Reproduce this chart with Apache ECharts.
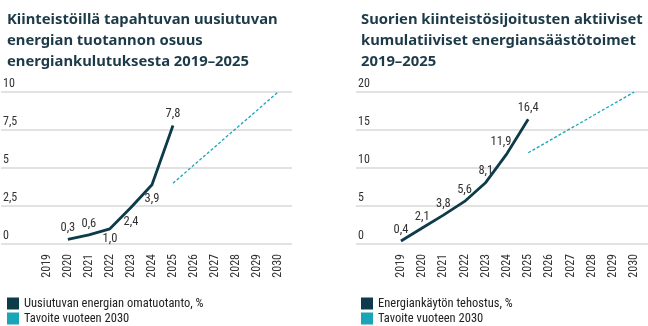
<!DOCTYPE html>
<html><head><meta charset="utf-8">
<script src="https://cdn.jsdelivr.net/npm/echarts@6/dist/echarts.min.js"></script>
<style>html,body{margin:0;padding:0;background:#fff}#c{width:648px;height:326px}</style>
</head><body><div id="c"></div>
<script>
const years = [2019,2020,2021,2022,2023,2024,2025,2026,2027,2028,2029,2030];
const leftYears = [2020,2021,2022,2023,2024,2025];
const leftValues = [0.3,0.6,1.0,2.4,3.9,7.8];
const leftLabelPos = ['top','top','bottom','bottom','bottom','top'];
const leftTargetYears = [2025,2030];
const leftTargetValues = [4,10];
const rightYears = [2019,2020,2021,2022,2023,2024,2025];
const rightValues = [0.4,2.1,3.8,5.6,8.1,11.9,16.4];
const rightTargetYears = [2025,2030];
const rightTargetValues = [12,20];
const leftTitle = 'Kiinteistöillä tapahtuvan uusiutuvan\nenergian tuotannon osuus\nenergiankulutuksesta 2019–2025';
const rightTitle = 'Suorien kiinteistösijoitusten aktiiviset\nkumulatiiviset energiansäästötoimet\n2019–2025';
const leftSeriesName = 'Uusiutuvan energian omatuotanto, %';
const rightSeriesName = 'Energiankäytön tehostus, %';
const targetName = 'Tavoite vuoteen 2030';

const DARK = '#0e3b49';
const TEAL = '#19a5b8';
const NARROW = '"Liberation Sans Narrow","Roboto Condensed","DejaVu Sans Condensed",sans-serif';
const fmt = v => String(v).replace('.', ',');
const fmt1 = v => v.toFixed(1).replace('.', ',');

function xAxis(gi, min, max) {
  return {
    type: 'value', gridIndex: gi, min: min, max: max,
    axisLine: {show: false}, axisTick: {show: false}, splitLine: {show: false},
    axisLabel: {customValues: years, rotate: 90, margin: 10, color: '#333',
      fontSize: 12, fontFamily: NARROW, formatter: v => String(Math.round(v))}
  };
}
function yAxis(gi, max, interval) {
  return {
    type: 'value', gridIndex: gi, min: 0, max: max, interval: interval,
    axisLine: {show: false}, axisTick: {show: false},
    splitLine: {lineStyle: {color: '#d9d9d9', width: 1.5}},
    axisLabel: {inside: true, align: 'left', verticalAlign: 'bottom', margin: 2,
      padding: [0,0,2,0], color: '#333', fontSize: 12, fontFamily: NARROW, formatter: fmt}
  };
}
const pair = (xs, ys) => xs.map((x, i) => [x, ys[i]]);

const leftData = leftYears.map((y, i) => ({value: [y, leftValues[i]],
  label: {position: leftLabelPos[i], distance: leftLabelPos[i] === 'bottom' ? (i === 2 ? 4 : 8) : 5}}));
const rightData = rightYears.map((y, i) => ({value: [y, rightValues[i]],
  label: {position: 'top', distance: 5, offset: i === 5 ? [-6, 0] : [0, 0]}}));

const labelStyle = {show: true, fontSize: 12.5, fontFamily: NARROW, color: '#333',
  formatter: p => fmt1(p.value[1])};

const legendText = {fontFamily: NARROW, fontSize: 12.5, color: '#222'};
function legend(left, top, name, color) {
  return {left: left, top: top, itemWidth: 12, itemHeight: 12, itemGap: 3, textStyle: legendText,
    data: [{name: name, icon: 'rect', itemStyle: {color: color}}]};
}

const chart = echarts.init(document.getElementById('c'), null, {renderer: 'canvas'});
chart.setOption({
  animation: false,
  title: [
    {text: leftTitle, left: 2, top: 4, textStyle: {fontFamily: '"Noto Sans"', fontWeight: 'bold', fontSize: 14.8, lineHeight: 21, color: '#1d3a48'}},
    {text: rightTitle, left: 356, top: 4, textStyle: {fontFamily: '"Noto Sans"', fontWeight: 'bold', fontSize: 14.8, lineHeight: 21, color: '#1d3a48'}}
  ],
  legend: [
    legend(2, 292, leftSeriesName, DARK),
    legend(2, 307, targetName, TEAL),
    legend(356, 292, rightSeriesName, DARK),
    legend(356, 307, targetName, TEAL)
  ],
  grid: [
    {left: 1, right: 356, top: 92, bottom: 82},
    {left: 356, right: 0, top: 92, bottom: 82}
  ],
  xAxis: [xAxis(0, 2016.82, 2030.66), xAxis(1, 2016.88, 2030.65)],
  yAxis: [yAxis(0, 10, 2.5), yAxis(1, 20, 5)],
  series: [
    {name: leftSeriesName, type: 'line', xAxisIndex: 0, yAxisIndex: 0, data: leftData,
      showSymbol: true, symbol: 'circle', symbolSize: 0.01, lineStyle: {color: DARK, width: 2.8}, itemStyle: {color: DARK},
      label: labelStyle},
    {name: targetName, type: 'line', xAxisIndex: 0, yAxisIndex: 0, data: pair(leftTargetYears, leftTargetValues),
      symbol: 'none', lineStyle: {color: TEAL, width: 1.3, type: [3, 2]}, itemStyle: {color: TEAL}},
    {name: rightSeriesName, type: 'line', xAxisIndex: 1, yAxisIndex: 1, data: rightData,
      showSymbol: true, symbol: 'circle', symbolSize: 0.01, lineStyle: {color: DARK, width: 2.8}, itemStyle: {color: DARK},
      label: labelStyle},
    {name: targetName, type: 'line', xAxisIndex: 1, yAxisIndex: 1, data: pair(rightTargetYears, rightTargetValues),
      symbol: 'none', lineStyle: {color: TEAL, width: 1.3, type: [3, 2]}, itemStyle: {color: TEAL}}
  ]
});
</script></body></html>
